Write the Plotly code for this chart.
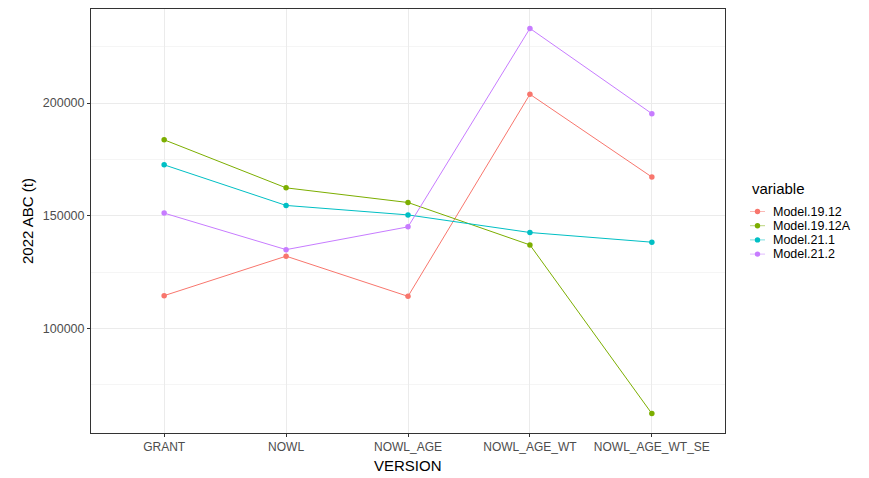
import plotly.graph_objects as go

versions = ["GRANT", "NOWL", "NOWL_AGE", "NOWL_AGE_WT", "NOWL_AGE_WT_SE"]
model_19_12 = [114600, 132100, 114300, 203900, 167200]
model_19_12A = [183700, 162400, 155900, 137100, 62300]
model_21_1 = [172600, 154600, 150400, 142600, 138300]
model_21_2 = [151200, 135000, 145100, 233100, 195300]

names = ["Model.19.12", "Model.19.12A", "Model.21.1", "Model.21.2"]
values = [model_19_12, model_19_12A, model_21_1, model_21_2]
colors = ["#F8766D", "#7CAE00", "#00BFC4", "#C77CFF"]

W, H = 869, 478
ML, MR, MT, MB = 91, 144, 9, 45
PW, PH = W - ML - MR, H - MT - MB

fig = go.Figure()
for name, vals, col in zip(names, values, colors):
    fig.add_trace(go.Scatter(
        x=list(range(len(versions))), y=vals, name=name, mode="lines+markers",
        line=dict(color=col, width=1), marker=dict(color=col, size=5.5),
        showlegend=False,
    ))

font = "Liberation Sans, Arial, sans-serif"

def px_x(px):
    return (px - ML) / PW

def px_y(py):
    return 1 - (py - MT) / PH

shapes = []
annotations = [dict(
    text="variable", xref="paper", yref="paper", x=px_x(750), y=px_y(188),
    xanchor="left", yanchor="middle", showarrow=False,
    font=dict(size=15, color="#000", family=font),
)]
for i, (name, col) in enumerate(zip(names, colors)):
    cy = 211.5 + 14.2 * i
    shapes.append(dict(type="line", xref="paper", yref="paper",
                       x0=px_x(750), x1=px_x(765), y0=px_y(cy), y1=px_y(cy),
                       line=dict(color=col, width=1), opacity=0.5))
    shapes.append(dict(type="circle", xref="paper", yref="paper",
                       x0=px_x(754.8), x1=px_x(760.2), y0=px_y(cy + 2.7), y1=px_y(cy - 2.7),
                       fillcolor=col, line=dict(width=0)))
    annotations.append(dict(
        text=name, xref="paper", yref="paper", x=px_x(771), y=px_y(cy),
        xanchor="left", yanchor="middle", showarrow=False,
        font=dict(size=12.5, color="#000", family=font),
    ))

# axis titles as annotations for precise placement
annotations.append(dict(
    text="VERSION", xref="paper", yref="paper", x=0.5, y=px_y(465),
    xanchor="center", yanchor="middle", showarrow=False,
    font=dict(size=15, color="#000", family=font),
))
annotations.append(dict(
    text="2022 ABC (t)", xref="paper", yref="paper", x=px_x(27), y=0.5,
    xanchor="center", yanchor="middle", showarrow=False, textangle=-90,
    font=dict(size=15, color="#000", family=font),
))

fig.update_layout(
    width=W, height=H,
    margin=dict(l=ML, r=MR, t=MT, b=MB),
    paper_bgcolor="white", plot_bgcolor="white",
    font=dict(family=font, color="#000000"),
    showlegend=False,
    shapes=shapes, annotations=annotations,
)
fig.update_xaxes(
    tickmode="array", tickvals=list(range(len(versions))), ticktext=versions,
    range=[-0.6, 4.6], showgrid=True, gridcolor="#EBEBEB", gridwidth=1,
    zeroline=False, showline=True, linecolor="#333333", linewidth=1, mirror=True,
    ticks="outside", ticklen=3, tickcolor="#333333",
    tickfont=dict(size=12, color="#4D4D4D"), automargin=False,
)
fig.update_yaxes(
    range=[53700, 241700], tickmode="linear", tick0=0, dtick=50000,
    showgrid=True, gridcolor="#EBEBEB", gridwidth=1,
    minor=dict(dtick=25000, tick0=0, showgrid=True, gridcolor="#F5F5F5", gridwidth=1),
    zeroline=False, showline=True, linecolor="#333333", linewidth=1, mirror=True,
    ticks="outside", ticklen=3, tickcolor="#333333",
    tickfont=dict(size=12.5, color="#4D4D4D"), tickformat="d", automargin=False,
)
fig.write_html("out.html")
